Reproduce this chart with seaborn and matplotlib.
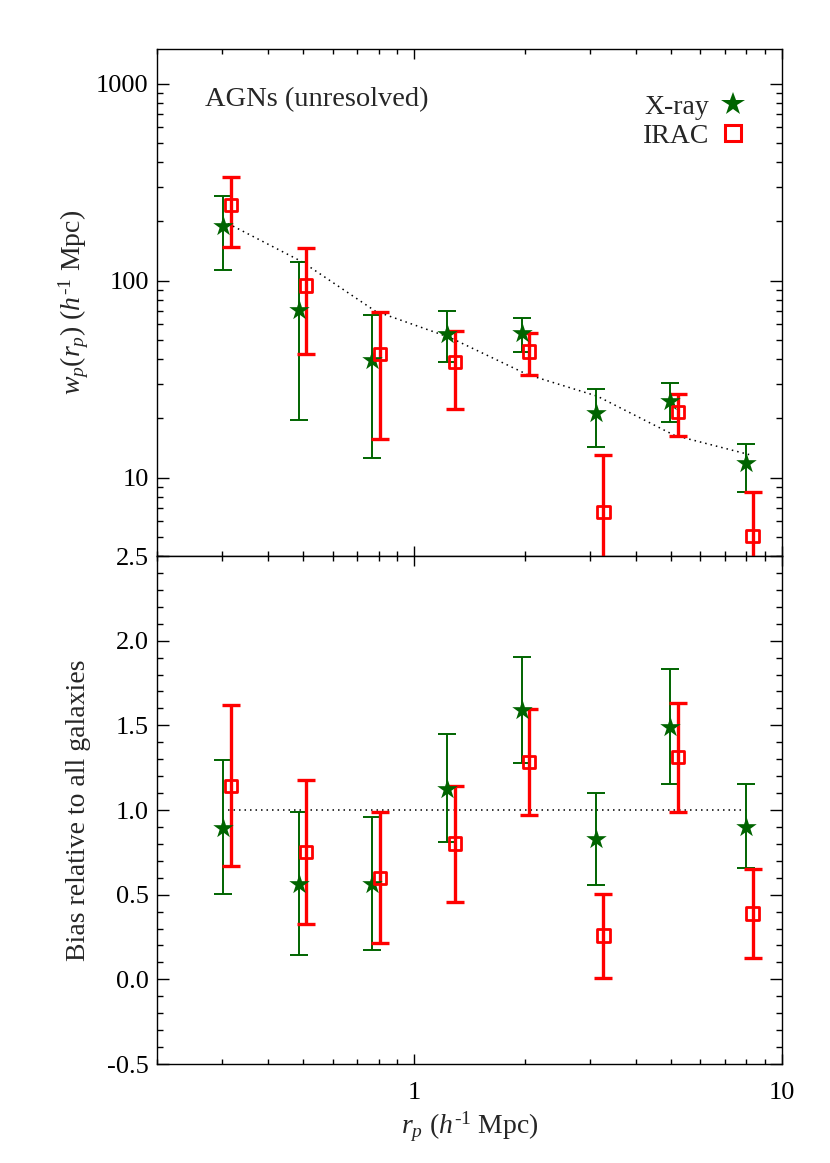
import numpy as np
import matplotlib
matplotlib.use("Agg")
import matplotlib.pyplot as plt
from matplotlib.lines import Line2D
from matplotlib.ticker import (LogLocator, MultipleLocator, FuncFormatter,
                               NullFormatter, FormatStrFormatter)
import seaborn as sns

#data
#x positions (h^-1 Mpc)
r_xray = [0.303, 0.485, 0.768, 1.23, 1.96, 3.12, 4.97, 7.96]
r_irac = [0.318, 0.508, 0.807, 1.29, 2.05, 3.27, 5.22, 8.32]
r_model = [0.312, 0.495, 0.785, 1.25, 2.03, 3.15, 5.1, 8.14]

#top panel: w_p(r_p)
wp_xray    = [190, 71, 39.4, 53.8, 54.2, 21.2, 24.6, 11.8]
wp_xray_lo = [113, 19.7, 12.6, 38.5, 43.4, 14.3, 19.1, 8.46]
wp_xray_hi = [270, 125, 67, 69.8, 64.6, 28.2, 30.3, 14.9]

wp_irac    = [242, 94.5, 42.4, 38.7, 43.8, 6.7, 21.5, 5.07]
wp_irac_lo = [148, 42.6, 15.8, 22.2, 33.4, 1.0, 16.3, 1.0]
wp_irac_hi = [337, 147, 69.3, 55.7, 54.2, 13.0, 26.7, 8.46]

wp_model = [195, 125, 70, 51.5, 33.4, 25.9, 16.4, 13.1]

#bottom panel: bias relative to all galaxies
b_xray    = [0.896, 0.561, 0.565, 1.126, 1.589, 0.827, 1.491, 0.900]
b_xray_lo = [0.507, 0.141, 0.172, 0.811, 1.278, 0.557, 1.156, 0.655]
b_xray_hi = [1.294, 0.988, 0.961, 1.451, 1.904, 1.100, 1.835, 1.154]

b_irac    = [1.142, 0.752, 0.600, 0.803, 1.284, 0.259, 1.313, 0.389]
b_irac_lo = [0.669, 0.324, 0.212, 0.458, 0.970, 0.009, 0.990, 0.127]
b_irac_hi = [1.619, 1.175, 0.990, 1.144, 1.595, 0.507, 1.631, 0.649]

b_model = [1.0, 1.0, 1.0, 1.0, 1.0, 1.0, 1.0, 1.0]

GREEN = "#006400"
RED = "#ff0000"
LABEL_FS = 20

sns.set_theme(style="ticks")
plt.rcParams.update({
    "font.family": ["Liberation Serif", "DejaVu Serif"],
    "mathtext.fontset": "custom",
    "mathtext.rm": "Liberation Serif",
    "mathtext.it": "Liberation Serif:italic",
    "axes.unicode_minus": False,
    "axes.linewidth": 1.0,
    "axes.edgecolor": "black",
    "xtick.color": "black",
    "ytick.color": "black",
    "font.size": 19,
})

fig = plt.figure(figsize=(8.3, 11.63), dpi=100)
ax1 = fig.add_axes([0.1892, 0.5219, 0.7530, 0.4359])
ax2 = fig.add_axes([0.1892, 0.0851, 0.7530, 0.4368])


def draw_panel(ax, y_x, lo_x, hi_x, y_i, lo_i, hi_i, y_m):
    y_x, lo_x, hi_x = map(np.asarray, (y_x, lo_x, hi_x))
    y_i, lo_i, hi_i = map(np.asarray, (y_i, lo_i, hi_i))
    sns.lineplot(x=r_model, y=y_m, ax=ax, color="black", lw=1.1,
                 linestyle=(0, (1, 2.6)), estimator=None, zorder=2)
    ax.errorbar(r_xray, y_x, yerr=[y_x - lo_x, hi_x - y_x], fmt="none",
                ecolor=GREEN, elinewidth=1.4, capsize=6.5, capthick=1.4,
                zorder=3)
    ax.errorbar(r_irac, y_i, yerr=[y_i - lo_i, hi_i - y_i], fmt="none",
                ecolor=RED, elinewidth=2.4, capsize=6.5, capthick=2.4,
                zorder=3)
    sns.scatterplot(x=r_xray, y=y_x, ax=ax, marker="*", s=240,
                    color=GREEN, edgecolor=GREEN, linewidth=0, zorder=4)
    sns.scatterplot(x=r_irac, y=y_i, ax=ax, marker="s", s=80,
                    color=RED, facecolor="none", edgecolor=RED,
                    linewidth=2.0, zorder=5)


for ax in (ax1, ax2):
    ax.set_xscale("log")

ax1.set_yscale("log")
draw_panel(ax1, wp_xray, wp_xray_lo, wp_xray_hi,
           wp_irac, wp_irac_lo, wp_irac_hi, wp_model)
draw_panel(ax2, b_xray, b_xray_lo, b_xray_hi,
           b_irac, b_irac_lo, b_irac_hi, b_model)

for ax in (ax1, ax2):
    ax.set_xlim(0.2, 10)
    ax.xaxis.set_major_locator(LogLocator(base=10))
    ax.xaxis.set_minor_locator(LogLocator(base=10, subs=np.arange(2, 10)))
    ax.xaxis.set_major_formatter(FuncFormatter(lambda v, _: f"{v:g}"))
    ax.xaxis.set_minor_formatter(NullFormatter())
    ax.tick_params(which="both", direction="in", top=True, right=True,
                   width=1, labelsize=19)
    ax.tick_params(axis="y", which="major", length=8.6, pad=6)
    ax.tick_params(axis="y", which="minor", length=4)
    ax.tick_params(axis="x", which="major", length=7, pad=13)
    ax.tick_params(axis="x", which="minor", length=3.4)
    for s in ax.spines.values():
        s.set_visible(True)
        s.set_linewidth(1.0)

#top panel
ax1.set_ylim(4, 1500)
ax1.yaxis.set_major_locator(LogLocator(base=10))
ax1.yaxis.set_minor_locator(LogLocator(base=10, subs=np.arange(2, 10)))
ax1.yaxis.set_major_formatter(FuncFormatter(lambda v, _: f"{v:g}"))
ax1.yaxis.set_minor_formatter(NullFormatter())
ax1.tick_params(axis="x", labelbottom=False)
ax1.set_ylabel(r"$w_p(r_p)$ ($h^{\text{-1}}$ Mpc)", fontsize=LABEL_FS)
ax1.yaxis.set_label_coords(-0.105, 0.5)
ax1.text(0.077, 0.9, "AGNs (unresolved)", transform=ax1.transAxes,
         ha="left", va="center", fontsize=20.5)

handles = [
    Line2D([], [], marker="*", color=GREEN, ls="none", ms=17.5, mew=0),
    Line2D([], [], marker="s", mfc="none", mec=RED, ls="none", ms=11,
           mew=2.2),
]
ax1.legend(handles, ["X-ray", "IRAC"], loc="upper right",
           bbox_to_anchor=(0.944, 0.91), markerfirst=False, frameon=False,
           borderpad=0, borderaxespad=0, handlelength=1, handletextpad=0.35,
           labelspacing=0.12, fontsize=LABEL_FS)

#bottom panel
ax2.set_ylim(-0.5, 2.5)
ax2.yaxis.set_major_locator(MultipleLocator(0.5))
ax2.yaxis.set_minor_locator(MultipleLocator(0.1))
ax2.yaxis.set_major_formatter(FormatStrFormatter("%.1f"))
ax2.set_ylabel("Bias relative to all galaxies", fontsize=LABEL_FS)
ax2.yaxis.set_label_coords(-0.105, 0.5)
ax2.set_xlabel(r"$r_p$ ($h^{\text{-1}}$ Mpc)", fontsize=LABEL_FS)
ax2.xaxis.set_label_coords(0.5, -0.09)

fig.savefig("out.png", dpi=100)
plt.close()
